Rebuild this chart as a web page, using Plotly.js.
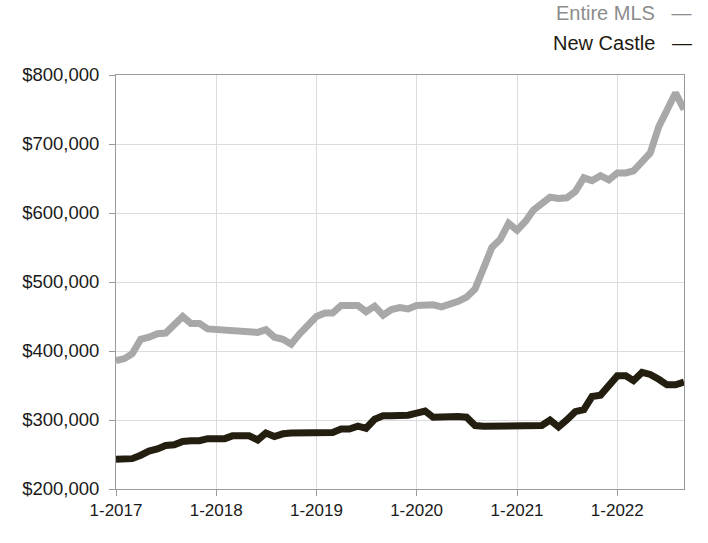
<!DOCTYPE html>
<html>
<head>
<meta charset="utf-8">
<script src="https://cdn.plot.ly/plotly-3.0.1.min.js"></script>
<style>
html,body{margin:0;padding:0;background:#fff;}
#chart{width:708px;height:543px;}
</style>
</head>
<body>
<div id="chart"></div>
<script>
// Monthly median prices, Jan 2017 .. Sep 2022
var startYear = 2017;
var entireMLS = [
  386, 389, 396, 417, 420, 425, 426, 438, 450, 440, 440, 432,
  431, 430, 430, 428, 426, 427, 431, 420, 417, 410, 425, 438,
  450, 455, 455, 466, 466, 466, 457, 465, 452, 460, 463, 461,
  466, 466, 467, 464, 467, 472, 478, 490, 520, 550, 562, 585,
  575, 588, 604, 615, 623, 621, 622, 631, 651, 647, 654, 648,
  658, 658, 661, 674, 687, 725, 748, 774, 750
];
var newCastle = [
  243, 243, 244, 249, 255, 258, 263, 264, 269, 270, 270, 273,
  273, 273, 277, 277, 277, 271, 281, 276, 280, 281, 281, 281,
  282, 282, 282, 287, 287, 291, 288, 301, 306, 306, 306, 307,
  310, 313, 304, 305, 305, 305, 304, 292, 291, 291, 292, 291,
  290, 290, 292, 292, 300, 290, 300, 312, 315, 334, 336, 349,
  364, 364, 357, 369, 366, 359, 351, 351, 355
];
var seriesNames = ["Entire MLS", "New Castle"];
var yTickVals = [200000, 300000, 400000, 500000, 600000, 700000, 800000];
var yTickText = ["$200,000", "$300,000", "$400,000", "$500,000", "$600,000", "$700,000", "$800,000"];
var xTickVals = ["2017-01-01", "2018-01-01", "2019-01-01", "2020-01-01", "2021-01-01", "2022-01-01"];
var xTickText = ["1-2017", "1-2018", "1-2019", "1-2020", "1-2021", "1-2022"];

function monthDates(n) {
  var out = [];
  for (var i = 0; i < n; i++) {
    var y = startYear + Math.floor(i / 12);
    var m = (i % 12) + 1;
    out.push(y + "-" + (m < 10 ? "0" + m : m) + "-01");
  }
  return out;
}
var dates = monthDates(entireMLS.length);
function thousands(a) { return a.map(function (v) { return v * 1000; }); }

var traces = [
  {x: dates, y: thousands(entireMLS), name: seriesNames[0], type: "scatter", mode: "lines",
   line: {color: "#a8a8a8", width: 7}},
  {x: dates, y: thousands(newCastle), name: seriesNames[1], type: "scatter", mode: "lines",
   line: {color: "#231e0f", width: 7}}
];

var layout = {
  width: 708, height: 543,
  margin: {l: 116, r: 24, t: 75, b: 54},
  paper_bgcolor: "#fff", plot_bgcolor: "#fff",
  showlegend: false,
  font: {family: "Liberation Sans, Arial, sans-serif", size: 17, color: "#1a1a1a"},
  xaxis: {
    type: "date",
    range: [dates[0], dates[dates.length - 1]],
    tickvals: xTickVals, ticktext: xTickText,
    showgrid: true, gridcolor: "#dcdcdc", gridwidth: 1,
    showline: true, linecolor: "#9a9a9a", linewidth: 1, mirror: true,
    ticks: "outside", ticklen: 6, tickcolor: "#9a9a9a",
    zeroline: false,
    tickfont: {size: 17, color: "#1a1a1a"}
  },
  yaxis: {
    range: [200000, 800000],
    tickvals: yTickVals, ticktext: yTickText,
    showgrid: true, gridcolor: "#dcdcdc", gridwidth: 1,
    showline: true, linecolor: "#9a9a9a", linewidth: 1, mirror: true,
    ticks: "outside", ticklen: 6, tickcolor: "#9a9a9a",
    ticklabelstandoff: 6,
    zeroline: false,
    tickfont: {size: 18.5, color: "#1a1a1a"}
  },
  annotations: [
    {xref: "paper", yref: "paper", x: 1.018, y: 1.15, xanchor: "right", yanchor: "middle",
     text: seriesNames[0] + "   —", showarrow: false,
     font: {size: 20, color: "#8c8c8c"}},
    {xref: "paper", yref: "paper", x: 1.018, y: 1.077, xanchor: "right", yanchor: "middle",
     text: seriesNames[1] + "   —", showarrow: false,
     font: {size: 20, color: "#1e1a10"}}
  ]
};

Plotly.newPlot("chart", traces, layout, {displayModeBar: false, staticPlot: true});
</script>
</body>
</html>
